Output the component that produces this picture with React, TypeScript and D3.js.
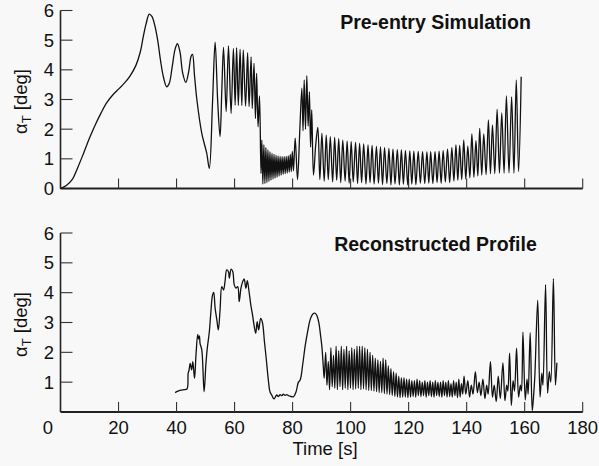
import { useEffect, useRef } from 'react'
import * as d3 from 'd3'

type Pt = [number, number]

const xTicks = [0, 20, 40, 60, 80, 100, 120, 140, 160, 180]
const topYTicks = [0, 1, 2, 3, 4, 5, 6]
const bottomYTicks = [1, 2, 3, 4, 5, 6]

const topTitle = 'Pre-entry Simulation'
const bottomTitle = 'Reconstructed Profile'

// pre-entry simulation
const simRise: Pt[] = [
  [0, 0], [2, 0.1], [4, 0.3], [6, 0.72], [8, 1.2], [10, 1.7], [12, 2.15], [14, 2.55], [16, 2.9],
  [18, 3.15], [20, 3.35], [22, 3.55], [24, 3.8], [26, 4.15], [27.5, 4.6], [28.5, 5.1], [29.5, 5.55],
  [30.6, 5.88], [31.5, 5.8], [32.5, 5.5], [33.5, 5.0], [34.5, 4.3], [35.5, 3.75], [36.6, 3.43],
  [37.5, 3.55], [38.5, 4.1], [39.5, 4.7], [40.3, 4.88], [41.2, 4.6], [42.1, 3.9], [43.2, 3.58],
  [44.2, 3.95], [45.0, 4.45], [45.5, 4.52], [46.2, 3.8], [47.0, 3.0], [48.7, 1.86], [50.4, 1.19],
  [51.3, 0.68], [52.4, 2.9]
]

const simBurst: Pt[] = [
  [53.3, 4.93], [54.2, 2.9], [55.0, 1.75], [55.6, 3.3], [56.2, 4.76], [57.1, 2.59], [57.9, 4.81],
  [58.8, 2.53], [59.6, 4.72], [60.2, 2.81], [60.7, 4.75], [61.3, 2.8], [61.9, 4.69], [62.5, 2.8],
  [63.0, 4.67], [63.8, 2.78], [64.5, 4.58], [65.0, 2.76], [65.7, 4.44], [66.1, 2.7], [66.7, 4.22],
  [67.2, 2.36], [67.6, 3.88], [68.1, 2.08], [68.6, 3.12], [69.1, 0.51]
]

const simDip: Pt[] = [
  [69.4, 1.63], [69.75, 0.15], [70.1, 1.47], [70.45, 0.17], [70.8, 1.38], [71.15, 0.2], [71.5, 1.3],
  [71.85, 0.24], [72.2, 1.24], [72.55, 0.28], [72.9, 1.19], [73.25, 0.32], [73.6, 1.15], [73.95, 0.35],
  [74.3, 1.12], [74.65, 0.38], [75.0, 1.1], [75.35, 0.42], [75.7, 1.08], [76.05, 0.45], [76.4, 1.07],
  [76.75, 0.48], [77.1, 1.07], [77.45, 0.5], [77.8, 1.08], [78.15, 0.52], [78.5, 1.1], [78.85, 0.55],
  [79.2, 1.15], [79.55, 0.57], [79.9, 1.25], [80.3, 0.6]
]

const simHump: Pt[] = [
  [80.9, 1.7], [81.7, 0.3], [82.5, 2.0], [83.2, 3.38], [83.6, 1.95], [84.0, 3.66], [84.45, 2.0],
  [84.9, 3.8], [85.35, 2.1], [85.8, 3.26], [86.2, 1.4], [86.6, 2.65], [87.2, 0.45], [88.0, 1.5]
]

const simDecay: Pt[] = [
  [88.7, 2.06], [89.4, 0.3], [90.1, 1.86], [90.9, 0.25], [91.6, 1.8], [92.3, 0.3], [93.0, 1.75],
  [93.8, 0.22], [94.5, 1.72], [95.2, 0.28], [95.9, 1.68], [96.6, 0.2], [97.3, 1.63], [98.1, 0.25],
  [98.8, 1.6], [99.5, 0.18], [100.2, 1.58], [100.9, 0.22], [101.7, 1.55], [102.4, 0.17], [103.1, 1.52],
  [103.8, 0.2], [104.5, 1.5], [105.3, 0.15], [106.0, 1.47], [106.7, 0.2], [107.4, 1.45], [108.1, 0.15],
  [108.9, 1.42], [109.6, 0.18], [110.3, 1.4], [111.0, 0.13], [111.7, 1.38], [112.5, 0.17], [113.2, 1.35],
  [113.9, 0.12], [114.6, 1.33], [115.3, 0.16], [116.1, 1.31], [116.8, 0.12], [117.5, 1.3], [118.2, 0.15],
  [118.9, 1.28], [119.7, 0.12], [120.4, 1.27], [121.1, 0.15], [121.8, 1.26], [122.5, 0.13]
]

const simGrow: Pt[] = [
  [123.3, 1.25], [124.05, 0.18], [124.8, 1.24], [125.55, 0.17], [126.3, 1.23], [126.95, 0.18],
  [127.6, 1.24], [128.35, 0.17], [129.1, 1.24], [129.8, 0.2], [130.5, 1.26], [131.2, 0.18],
  [131.9, 1.28], [132.65, 0.22], [133.4, 1.33], [134.15, 0.2], [134.9, 1.38], [135.6, 0.25],
  [136.3, 1.47], [136.95, 0.28], [137.6, 1.45], [138.3, 0.3], [139.0, 1.63], [139.7, 0.32],
  [140.4, 1.43], [141.1, 0.36], [141.8, 1.84], [142.5, 0.38], [143.2, 1.61], [143.85, 0.42],
  [144.5, 2.03], [145.2, 0.45], [145.9, 1.84], [146.7, 0.47], [147.5, 2.31], [148.2, 0.5],
  [148.9, 2.14], [149.7, 0.5], [150.5, 2.67], [151.3, 0.52], [152.1, 2.55], [152.9, 0.52],
  [153.7, 3.12], [154.6, 0.53], [155.5, 3.09], [156.3, 0.52], [157.1, 3.66], [157.9, 0.57], [158.8, 3.77]
]

// reconstructed profile
const recStart: Pt[] = [
  [39.5, 0.65], [40.5, 0.7], [41.5, 0.73], [42.5, 0.75], [43.6, 0.77], [44.0, 1.3], [44.3, 1.4],
  [44.7, 1.63], [45.2, 1.41], [45.6, 1.69], [46.2, 1.13], [46.7, 1.91], [47.3, 2.6], [47.6, 2.45],
  [47.9, 2.55], [48.1, 2.3], [48.7, 2.08], [49.5, 0.68], [50.1, 1.58], [50.6, 2.14], [51.3, 2.69],
  [51.8, 3.31], [52.4, 3.92], [52.8, 4.01], [53.3, 3.48], [53.9, 3.08], [54.4, 2.75], [55.0, 3.42],
  [55.6, 4.2], [56.2, 4.09], [56.7, 4.37], [57.3, 4.76], [57.9, 4.7], [58.2, 4.48], [58.8, 4.79],
  [59.4, 4.7], [59.9, 4.26], [60.5, 4.15], [61.1, 4.2], [61.6, 3.7], [62.2, 4.15], [62.8, 4.37],
  [63.3, 4.46], [63.9, 4.15], [64.4, 4.4], [65.0, 4.03], [65.6, 3.59], [66.2, 3.25], [66.7, 2.92],
  [67.3, 2.64], [67.8, 3.03], [68.3, 2.75], [69.0, 3.14], [69.6, 3.0], [70.3, 2.36], [70.9, 1.8],
  [71.7, 1.02], [72.2, 0.68], [72.8, 0.57], [73.6, 0.44], [74.5, 0.57], [75.1, 0.52], [75.7, 0.58],
  [76.3, 0.55], [76.8, 0.6], [77.4, 0.56], [78.0, 0.58], [78.6, 0.55], [79.1, 0.53], [80.3, 0.51],
  [81.2, 0.68]
]

const recHump: Pt[] = [
  [82.0, 1.0], [82.6, 1.07], [83.5, 1.6], [84.3, 2.19], [85.2, 2.7], [86.0, 3.08], [86.9, 3.28],
  [87.8, 3.31], [88.5, 3.2], [89.1, 2.97], [89.6, 2.6], [90.1, 2.19], [90.6, 1.5], [90.9, 1.13]
]

const recOsc: Pt[] = [
  [91.4, 2.0], [91.85, 0.9], [92.3, 1.7], [92.75, 0.75], [93.2, 2.15], [93.65, 0.85], [94.1, 1.9],
  [94.55, 0.8], [95.0, 2.2], [95.45, 0.75], [95.9, 2.05], [96.35, 0.85], [96.8, 2.2], [97.25, 0.75],
  [97.7, 2.1], [98.15, 0.8], [98.6, 2.2], [99.05, 0.75], [99.5, 2.05], [99.95, 0.8], [100.4, 2.15],
  [100.85, 0.75], [101.3, 2.1], [101.75, 0.78], [102.2, 2.2], [102.65, 0.8], [103.1, 2.2], [103.55, 0.75],
  [104.0, 2.2], [104.45, 0.78], [104.9, 2.15], [105.35, 0.75], [105.8, 2.1], [106.25, 0.72], [106.7, 2.0],
  [107.15, 0.72], [107.6, 1.9], [108.05, 0.7], [108.5, 1.8], [108.95, 0.68], [109.4, 1.75], [109.85, 0.65],
  [110.3, 1.7], [110.75, 0.65], [111.2, 1.8], [111.65, 0.62], [112.1, 1.75], [112.55, 0.6], [113.0, 1.55],
  [113.45, 0.58], [113.9, 1.45], [114.35, 0.55], [114.8, 1.35], [115.25, 0.52], [115.7, 1.3], [116.15, 0.5],
  [116.6, 1.2], [117.05, 0.48], [117.5, 1.15], [117.95, 0.5], [118.4, 1.15], [118.85, 0.5], [119.3, 1.1],
  [119.75, 0.48], [120.2, 1.1], [120.65, 0.5], [121.1, 1.05], [121.55, 0.52], [122.0, 1.05], [122.45, 0.5],
  [122.9, 1.1], [123.35, 0.55], [123.8, 1.05], [124.25, 0.52], [124.7, 1.0], [125.15, 0.55], [125.6, 1.05],
  [126.05, 0.5], [126.5, 1.0], [126.95, 0.55], [127.4, 1.05], [127.85, 0.52], [128.3, 1.0], [128.75, 0.5],
  [129.2, 1.05], [129.65, 0.55], [130.1, 1.0], [130.55, 0.52], [131.0, 1.0], [131.45, 0.5], [131.9, 1.05],
  [132.35, 0.55], [132.8, 1.0], [133.25, 0.5], [133.7, 1.05], [134.15, 0.52], [134.6, 0.95], [135.05, 0.5],
  [135.5, 1.05], [135.95, 0.55], [136.4, 1.0], [136.85, 0.48], [137.3, 1.1], [137.75, 0.5], [138.2, 0.95],
  [138.65, 0.6], [139.1, 1.2], [139.7, 0.6]
]

const recGrow: Pt[] = [
  [140.4, 1.05], [141.0, 0.5], [141.6, 0.9], [142.2, 0.6], [143.0, 1.35], [143.7, 0.65], [144.3, 1.0],
  [144.9, 0.55], [145.6, 1.1], [146.3, 0.45], [146.9, 0.9], [147.4, 0.6], [148.2, 1.69], [148.9, 0.5],
  [149.5, 0.9], [150.2, 0.35], [150.9, 1.2], [151.6, 0.45], [152.5, 1.65], [153.2, 0.38], [153.8, 0.9],
  [154.2, 0.7], [154.8, 1.97], [155.4, 0.22], [156.0, 1.05], [156.5, 0.7], [157.2, 2.14], [157.9, 0.5],
  [158.5, 0.9], [158.9, 0.7], [159.4, 2.68], [160.2, 0.4], [160.8, 1.1], [161.2, 0.6], [161.9, 2.66],
  [162.6, 0.05], [163.0, 0.45], [163.5, 1.2], [164.5, 3.75], [165.3, 0.5], [165.9, 1.3], [166.3, 0.9],
  [167.2, 4.27], [167.9, 0.63], [168.5, 1.35], [169.0, 1.0], [169.9, 4.47], [170.6, 0.9], [171.1, 1.65]
]

const simSeries = [...simRise, ...simBurst, ...simDip, ...simHump, ...simDecay, ...simGrow]
const recSeries = [...recStart, ...recHump, ...recOsc, ...recGrow]

const W = 599
const H = 466
const FONT = '"Liberation Sans", Arial, Helvetica, sans-serif'

export default function App() {
  const svgRef = useRef<SVGSVGElement>(null)

  useEffect(() => {
    if (!svgRef.current) return
    document.body.style.margin = '0'
    const svg = d3.select(svgRef.current)
    svg.selectAll('*').remove()

    svg.append('rect').attr('width', W).attr('height', H).attr('fill', '#f8f8f8')

    const x = d3.scaleLinear().domain([0, 180]).range([60.5, 582.7])

    const panels = [
      { data: simSeries, y: d3.scaleLinear().domain([0, 6]).range([188.5, 10.5]), yTicks: topYTicks, title: topTitle, titleY: 29, showX: false },
      { data: recSeries, y: d3.scaleLinear().domain([0, 6]).range([412, 233]), yTicks: bottomYTicks, title: bottomTitle, titleY: 251, showX: true }
    ]

    panels.forEach(p => {
      const g = svg.append('g')
      const y0 = p.y(0)

      // y axis line + inward ticks
      g.append('line')
        .attr('x1', x(0)).attr('x2', x(0))
        .attr('y1', y0).attr('y2', p.y(6))
        .attr('stroke', '#222').attr('stroke-width', 1.6)
      g.selectAll('.yt')
        .data(p.yTicks)
        .join('line')
        .attr('x1', x(0)).attr('x2', x(0) + 12)
        .attr('y1', d => p.y(d)).attr('y2', d => p.y(d))
        .attr('stroke', '#333').attr('stroke-width', 1.1)
      g.selectAll('.yl')
        .data(p.yTicks)
        .join('text')
        .attr('x', 54)
        .attr('y', d => p.y(d) + 6.5)
        .attr('text-anchor', 'end')
        .attr('font-family', FONT)
        .attr('font-size', 18.5)
        .attr('fill', '#111')
        .text(d => d)

      // x axis line + upward ticks
      g.append('line')
        .attr('x1', x(0)).attr('x2', x(180))
        .attr('y1', y0).attr('y2', y0)
        .attr('stroke', '#222').attr('stroke-width', 1.8)
      g.selectAll('.xt')
        .data(xTicks.slice(1))
        .join('line')
        .attr('x1', d => x(d)).attr('x2', d => x(d))
        .attr('y1', y0).attr('y2', y0 - 10)
        .attr('stroke', '#333').attr('stroke-width', 1.1)

      if (p.showX) {
        g.selectAll('.xl')
          .data(xTicks)
          .join('text')
          .attr('x', d => (d === 0 ? 48 : x(d)))
          .attr('y', y0 + 22)
          .attr('text-anchor', 'middle')
          .attr('font-family', FONT)
          .attr('font-size', 18.5)
          .attr('fill', '#111')
          .text(d => d)
        g.append('text')
          .attr('x', 325).attr('y', y0 + 43)
          .attr('text-anchor', 'middle')
          .attr('font-family', FONT)
          .attr('font-size', 18.5)
          .attr('fill', '#111')
          .text('Time [s]')
      }

      // y label: alpha_T [deg]
      const midY = (y0 + p.y(6)) / 2 + 2
      const lab = g.append('text')
        .attr('transform', `translate(27,${midY}) rotate(-90)`)
        .attr('text-anchor', 'middle')
        .attr('font-family', FONT)
        .attr('font-size', 18.5)
        .attr('fill', '#111')
      lab.append('tspan').text('α')
      lab.append('tspan').attr('dy', 4).attr('font-size', 13).text('T')
      lab.append('tspan').attr('dy', -4).text(' [deg]')

      g.append('text')
        .attr('x', 435.5).attr('y', p.titleY)
        .attr('text-anchor', 'middle')
        .attr('font-family', FONT)
        .attr('font-size', 19.5)
        .attr('font-weight', 'bold')
        .attr('fill', '#111')
        .text(p.title)

      const line = d3.line<Pt>()
        .x(d => x(d[0]))
        .y(d => p.y(d[1]))
        .curve(d3.curveCatmullRom.alpha(0.5))

      g.append('path')
        .datum(p.data)
        .attr('d', line)
        .attr('fill', 'none')
        .attr('stroke', '#111')
        .attr('stroke-width', 1.3)
        .attr('stroke-linejoin', 'round')
    })
  }, [])

  return (
    <svg ref={svgRef} width={W} height={H} style={{ display: 'block', position: 'absolute', left: 0, top: 0 }} />
  )
}
